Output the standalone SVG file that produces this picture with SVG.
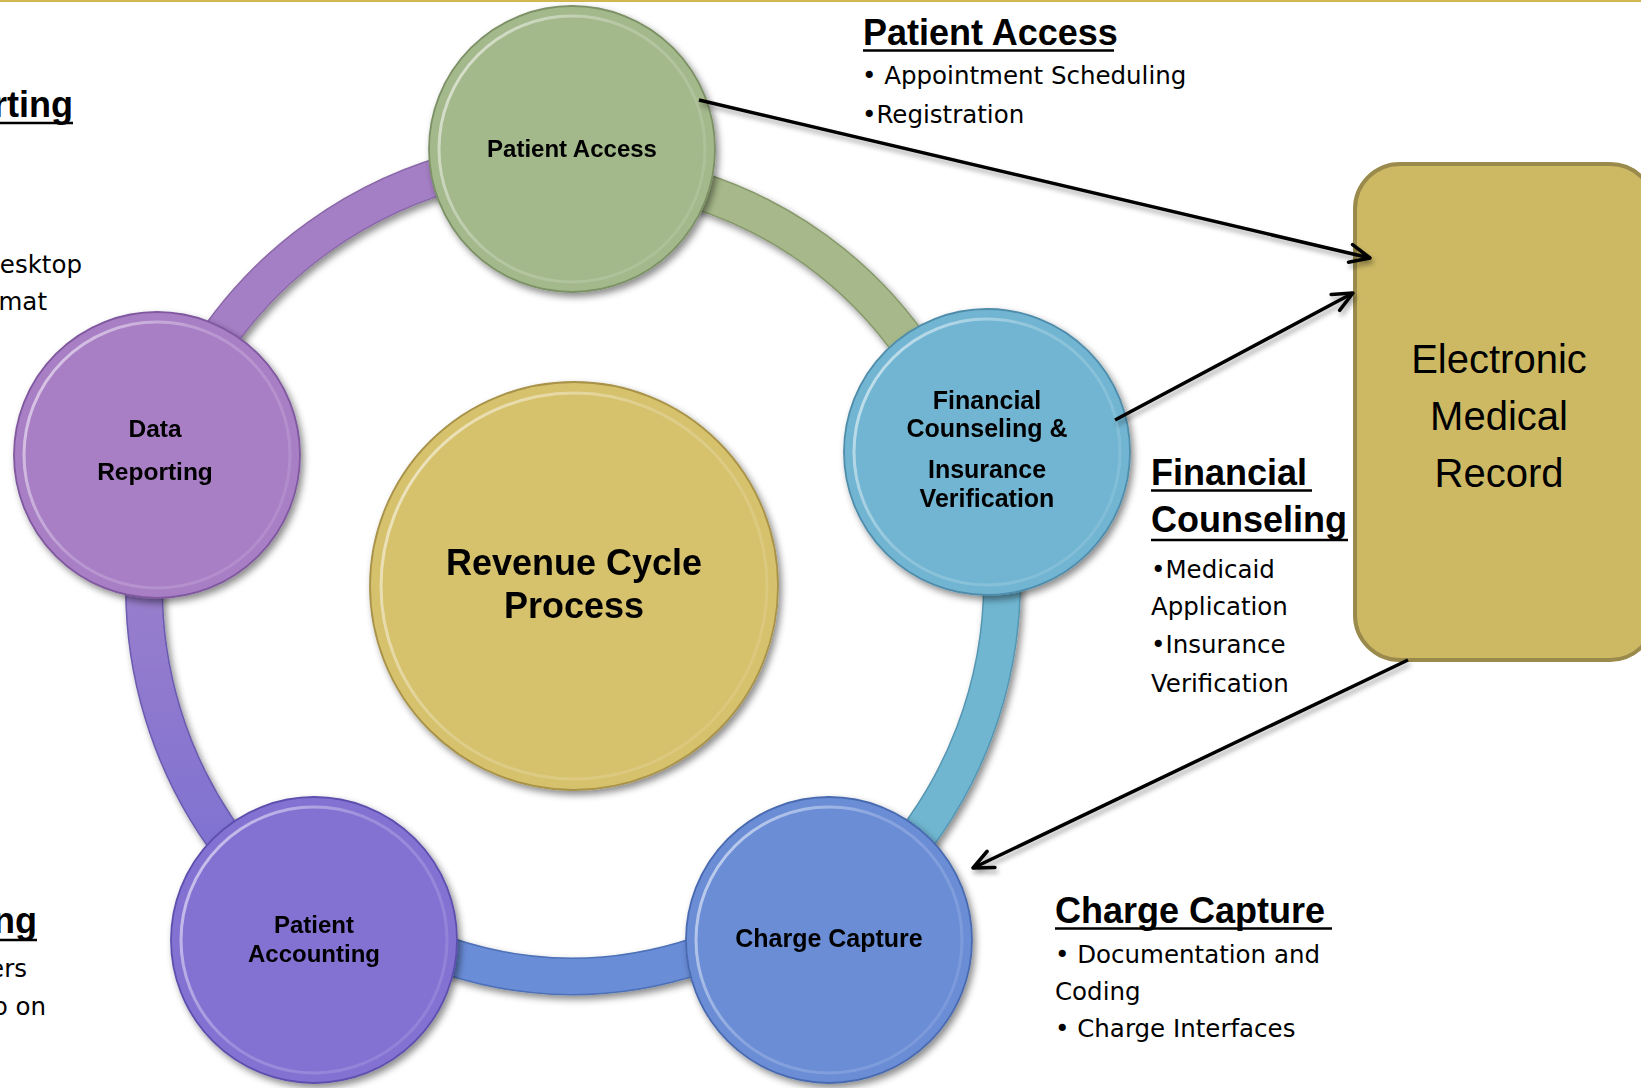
<svg xmlns="http://www.w3.org/2000/svg" width="1641" height="1088" viewBox="0 0 1641 1088">
<defs>
  <filter id="shadow" x="-20%" y="-20%" width="140%" height="140%">
    <feDropShadow dx="3" dy="4" stdDeviation="3.5" flood-color="#000" flood-opacity="0.45"/>
  </filter>
  <filter id="lshadow" x="-10%" y="-50%" width="120%" height="200%">
    <feDropShadow dx="2" dy="4" stdDeviation="2.5" flood-color="#000" flood-opacity="0.35"/>
  </filter>
  <linearGradient id="rim" x1="0" y1="0.2" x2="1" y2="0.8">
    <stop offset="0" stop-color="#fff" stop-opacity="0.6"/>
    <stop offset="0.45" stop-color="#fff" stop-opacity="0.2"/>
    <stop offset="1" stop-color="#fff" stop-opacity="0.1"/>
  </linearGradient>
  <linearGradient id="violet" gradientUnits="userSpaceOnUse" x1="0" y1="560" x2="0" y2="850">
    <stop offset="0" stop-color="#9c7fcb"/>
    <stop offset="1" stop-color="#7f72d2"/>
  </linearGradient>
  <marker id="arrow" markerUnits="userSpaceOnUse" markerWidth="26" markerHeight="26" viewBox="0 0 26 26" refX="23" refY="13" orient="auto">
    <path d="M3,4 L23,13 L3,22" fill="none" stroke="#000" stroke-width="3.5" stroke-linecap="round" stroke-linejoin="round"/>
  </marker>
</defs>
<style>
  .band-o { fill: none; stroke-width: 38; }
  .band { fill: none; stroke-width: 35; }
  .node { stroke-width: 1.8; }
  .rimc { fill: none; stroke: url(#rim); stroke-width: 3; }
  .lbl { font-family: "Liberation Sans", Arial, sans-serif; font-weight: bold; fill: #000; text-anchor: middle; }
  .head { font-family: "Liberation Sans", Arial, sans-serif; font-weight: bold; font-size: 36px; fill: #000; }
  .body { font-family: "DejaVu Sans", "Liberation Sans", sans-serif; font-size: 24.5px; fill: #000; }
  .ul { stroke: #000; stroke-width: 2.5; }
  .conn { fill: none; stroke: #000; stroke-width: 3.5; marker-end: url(#arrow); }
</style>
<rect x="0" y="0" width="1641" height="1088" fill="#fff"/>
<rect x="0" y="0" width="1641" height="2" fill="#d2b64f"/>

<!-- cycle ring -->
<g id="ring" filter="url(#shadow)">
  <path class="band-o" stroke="#8a68a8" d="M205,358 A430,430 0 0 1 470,168"/>
  <path class="band" stroke="#a57fc5" d="M205,358 A430,430 0 0 1 470,168"/>
  <path class="band-o" stroke="#87996c" d="M693,189 A415,415 0 0 1 912,348"/>
  <path class="band" stroke="#a7b98a" d="M693,189 A415,415 0 0 1 912,348"/>
  <path class="band-o" stroke="#5596b2" d="M1002,575 A430,430 0 0 1 890,870"/>
  <path class="band" stroke="#70b6d1" d="M1002,575 A430,430 0 0 1 890,870"/>
  <path class="band-o" stroke="#4d70b6" d="M700,955 Q572,998 445,955"/>
  <path class="band" stroke="#6a8dd8" d="M700,955 Q572,998 445,955"/>
  <path class="band-o" stroke="#6a5ab0" d="M233,850 A430,430 0 0 1 145,560"/>
  <path class="band" stroke="url(#violet)" d="M233,850 A430,430 0 0 1 145,560"/>
</g>

<!-- central node -->
<g id="node-revenue-cycle" filter="url(#shadow)">
  <circle class="node" cx="574" cy="586" r="204" fill="#d6c16c" stroke="#a8934a"/>
  <circle class="rimc" cx="574" cy="586" r="193"/>
  <text class="lbl" font-size="36" x="574" y="575">Revenue Cycle</text>
  <text class="lbl" font-size="36" x="574" y="618">Process</text>
</g>

<g id="node-patient-access" filter="url(#shadow)">
  <circle class="node" cx="572" cy="149" r="143" fill="#a3b88b" stroke="#7d9166"/>
  <circle class="rimc" cx="572" cy="149" r="133"/>
  <text class="lbl" font-size="24" x="572" y="157">Patient Access</text>
</g>

<g id="node-financial-counseling" filter="url(#shadow)">
  <circle class="node" cx="987" cy="452" r="143" fill="#71b5d2" stroke="#4f8dab"/>
  <circle class="rimc" cx="987" cy="452" r="133"/>
  <text class="lbl" font-size="25" x="987" y="409">Financial</text>
  <text class="lbl" font-size="25" x="987" y="437">Counseling &amp;</text>
  <text class="lbl" font-size="25" x="987" y="478">Insurance</text>
  <text class="lbl" font-size="25" x="987" y="507">Verification</text>
</g>

<g id="node-charge-capture" filter="url(#shadow)">
  <circle class="node" cx="829" cy="940" r="143" fill="#6a8dd6" stroke="#4a6bb0"/>
  <circle class="rimc" cx="829" cy="940" r="133"/>
  <text class="lbl" font-size="25" x="829" y="947">Charge Capture</text>
</g>

<g id="node-patient-accounting" filter="url(#shadow)">
  <circle class="node" cx="314" cy="940" r="143" fill="#8472d3" stroke="#5d4fae"/>
  <circle class="rimc" cx="314" cy="940" r="133"/>
  <text class="lbl" font-size="24" x="314" y="933">Patient</text>
  <text class="lbl" font-size="24" x="314" y="962">Accounting</text>
</g>

<g id="node-data-reporting" filter="url(#shadow)">
  <circle class="node" cx="157" cy="455" r="143" fill="#a87ec5" stroke="#7f589f"/>
  <circle class="rimc" cx="157" cy="455" r="133"/>
  <text class="lbl" font-size="24.5" x="155" y="437">Data</text>
  <text class="lbl" font-size="24.5" x="155" y="480">Reporting</text>
</g>

<g id="node-emr">
  <rect x="1355" y="164" width="300" height="496" rx="45" ry="45" fill="#cdb964" stroke="#9a8a4c" stroke-width="4"/>
  <text class="lbl" style="font-weight:normal" font-size="40" x="1499" y="373">Electronic</text>
  <text class="lbl" style="font-weight:normal" font-size="40" x="1499" y="430">Medical</text>
  <text class="lbl" style="font-weight:normal" font-size="40" x="1499" y="487">Record</text>
</g>

<!-- connectors -->
<g id="connectors" filter="url(#lshadow)">
  <line class="conn" x1="699" y1="100" x2="1370" y2="258"/>
  <line class="conn" x1="1115" y1="420" x2="1353" y2="293"/>
  <line class="conn" x1="1408" y1="660" x2="973" y2="868"/>
</g>

<!-- annotation texts -->
<g id="text-patient-access">
  <text class="head" x="863" y="45">Patient Access</text>
  <line class="ul" x1="863" y1="50.5" x2="1114" y2="50.5"/>
  <text class="body" x="862" y="84">• Appointment Scheduling</text>
  <text class="body" x="862" y="123">•Registration</text>
</g>
<g id="text-financial-counseling">
  <text class="head" x="1151" y="485">Financial</text>
  <line class="ul" x1="1151" y1="490.5" x2="1312" y2="490.5"/>
  <text class="head" x="1151" y="532">Counseling</text>
  <line class="ul" x1="1151" y1="540" x2="1348" y2="540"/>
  <text class="body" x="1151" y="578">•Medicaid</text>
  <text class="body" x="1151" y="615">Application</text>
  <text class="body" x="1151" y="653">•Insurance</text>
  <text class="body" x="1151" y="692">Verification</text>
</g>
<g id="text-charge-capture">
  <text class="head" x="1055" y="923">Charge Capture</text>
  <line class="ul" x1="1055" y1="928.5" x2="1332" y2="928.5"/>
  <text class="body" x="1055" y="963">• Documentation and</text>
  <text class="body" x="1055" y="1000">Coding</text>
  <text class="body" x="1055" y="1037">• Charge Interfaces</text>
</g>
<g id="text-left-clipped">
  <text class="head" text-anchor="end" x="73" y="117">rting</text>
  <line class="ul" x1="0" y1="123" x2="73" y2="123"/>
  <text class="body" text-anchor="end" x="82" y="273">esktop</text>
  <text class="body" text-anchor="end" x="47" y="310">mat</text>
  <text class="head" text-anchor="end" x="37" y="933">ng</text>
  <line class="ul" x1="0" y1="940" x2="37" y2="940"/>
  <text class="body" text-anchor="end" x="27" y="977">ers</text>
  <text class="body" text-anchor="end" x="46" y="1015">p on</text>
</g>
</svg>
